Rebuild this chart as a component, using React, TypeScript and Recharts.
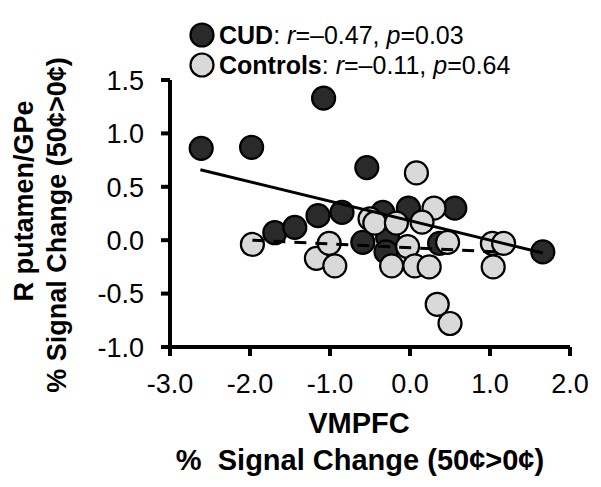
import React from 'react';
import { ScatterChart, Scatter, XAxis, YAxis, Legend } from 'recharts';

const FONT = '"Liberation Sans", Arial, sans-serif';

const xTicks = [-3, -2, -1, 0, 1, 2];
const xTickLabels = ['-3.0', '-2.0', '-1.0', '0.0', '1.0', '2.0'];
const yTicks = [-1, -0.5, 0, 0.5, 1, 1.5];
const yTickLabels = ['-1.0', '-0.5', '0.0', '0.5', '1.0', '1.5'];

const cudX = [-2.61, -1.98, -1.08, -0.54, -1.69, -1.44, -1.15, -0.85, -0.59, -0.34, -0.02, 0.56, -0.28, -0.3, 0.37, 1.66];
const cudY = [0.86, 0.87, 1.33, 0.68, 0.07, 0.12, 0.23, 0.26, -0.02, 0.26, 0.3, 0.3, 0.03, -0.11, -0.03, -0.11];

const ctrlX = [-1.97, -1.17, -1.01, -0.94, 0.08, -0.5, -0.44, -0.17, 0.3, 0.15, 0.47, -0.03, -0.23, 0.06, 0.24, 0.34, 0.5, 1.03, 1.17, 1.04];
const ctrlY = [-0.04, -0.17, -0.03, -0.24, 0.63, 0.2, 0.16, 0.16, 0.3, 0.17, -0.02, -0.06, -0.24, -0.24, -0.25, -0.6, -0.78, -0.03, -0.03, -0.25];

const cudFitX = [-2.62, 1.66];
const cudFitY = [0.66, -0.12];
const ctrlFitX = [-1.97, 1.12];
const ctrlFitY = [0.0, -0.11];

const groupNames = ['CUD', 'Controls'];
const rValues = ['\u20130.47', '\u20130.11'];
const pValues = ['0.03', '0.64'];

const yTitle = ['R putamen/GPe', '% Signal Change (50\u00a2>0\u00a2)'];
const xTitle = ['VMPFC', '%\u00a0 Signal Change (50\u00a2>0\u00a2)'];

const DARK = '#2a2a2a';
const LIGHT = '#d9d9d9';

const cudData = cudX.map((x, i) => ({ x, y: cudY[i] }));
const ctrlData = ctrlX.map((x, i) => ({ x, y: ctrlY[i] }));
const cudFit = cudFitX.map((x, i) => ({ x, y: cudFitY[i] }));
const ctrlFit = ctrlFitX.map((x, i) => ({ x, y: ctrlFitY[i] }));

const darkDot = (p: any) => (
  <circle cx={p.cx} cy={p.cy} r={11.5} fill={DARK} stroke="#000" strokeWidth={2.2} />
);
const lightDot = (p: any) => (
  <circle cx={p.cx} cy={p.cy} r={11.5} fill={LIGHT} stroke="#000" strokeWidth={2.2} />
);
const noDot = () => <g />;

const XTick = (p: any) => {
  const i = xTicks.indexOf(p.payload.value);
  return (
    <text x={p.x} y={393} textAnchor="middle" fontSize={27} fontFamily={FONT} fill="#000">
      {xTickLabels[i]}
    </text>
  );
};

const YTick = (p: any) => {
  const i = yTicks.indexOf(p.payload.value);
  return (
    <text x={144} y={p.y} dy="0.36em" textAnchor="end" fontSize={27} fontFamily={FONT} fill="#000">
      {yTickLabels[i]}
    </text>
  );
};

const YTitle = () => (
  <g fontFamily={FONT} fontWeight="bold" fontSize={27} fill="#000">
    <text transform="translate(33,201) rotate(-90)" textAnchor="middle">{yTitle[0]}</text>
    <text transform="translate(66,225) rotate(-90)" textAnchor="middle">{yTitle[1]}</text>
  </g>
);

const XTitle = () => (
  <g fontFamily={FONT} fontWeight="bold" fontSize={29} fill="#000">
    <text x={359} y={433} textAnchor="middle">{xTitle[0]}</text>
    <text x={360} y={470} textAnchor="middle">{xTitle[1]}</text>
  </g>
);

const LegendContent = () => (
  <svg width={601} height={90} style={{ display: 'block' }}>
    {groupNames.map((g, i) => (
      <g key={g}>
        <circle cx={202} cy={35 + i * 30} r={11.5} fill={i === 0 ? DARK : LIGHT} stroke="#000" strokeWidth={2.2} />
        <text x={219} y={44 + i * 30} fontSize={25} fontFamily={FONT} fill="#000">
          <tspan fontWeight="bold">{g}</tspan>
          <tspan>{': '}</tspan>
          <tspan fontStyle="italic">r</tspan>
          <tspan>{'=' + rValues[i] + ', '}</tspan>
          <tspan fontStyle="italic">p</tspan>
          <tspan>{'=' + pValues[i]}</tspan>
        </text>
      </g>
    ))}
  </svg>
);

export default function App() {
  return (
    <div style={{ position: 'absolute', left: 0, top: 0, width: 601, height: 487, background: '#fff' }}>
      <ScatterChart width={601} height={487} margin={{ top: 80, right: 31, bottom: 0, left: 0 }}>
        <XAxis
          type="number"
          dataKey="x"
          domain={[-3, 2]}
          ticks={xTicks}
          interval={0}
          height={140}
          axisLine={{ stroke: '#000', strokeWidth: 4 }}
          tickLine={{ stroke: '#000', strokeWidth: 4 }}
          tickSize={9}
          tick={<XTick />}
          allowDataOverflow
          label={{ content: () => <XTitle /> }}
        />
        <YAxis
          type="number"
          dataKey="y"
          domain={[-1, 1.5]}
          ticks={yTicks}
          interval={0}
          width={170}
          axisLine={{ stroke: '#000', strokeWidth: 4 }}
          tickLine={{ stroke: '#000', strokeWidth: 4 }}
          tickSize={9}
          tick={<YTick />}
          allowDataOverflow
          label={{ content: () => <YTitle /> }}
        />
        <Scatter name="CUD" data={cudData} isAnimationActive={false} shape={darkDot} />
        <Scatter name="Controls" data={ctrlData} isAnimationActive={false} shape={lightDot} />
        <Scatter
          name="CUD fit"
          data={cudFit}
          isAnimationActive={false}
          shape={noDot}
          line={{ stroke: '#000', strokeWidth: 3 }}
          legendType="none"
        />
        <Scatter
          name="Controls fit"
          data={ctrlFit}
          isAnimationActive={false}
          shape={noDot}
          line={{ stroke: '#000', strokeWidth: 3, strokeDasharray: '12 9' }}
          legendType="none"
        />
        <Legend
          layout="horizontal"
          verticalAlign="middle"
          align="center"
          wrapperStyle={{ left: 0, top: 0, width: 601, height: 90 }}
          content={() => <LegendContent />}
        />
      </ScatterChart>
    </div>
  );
}
